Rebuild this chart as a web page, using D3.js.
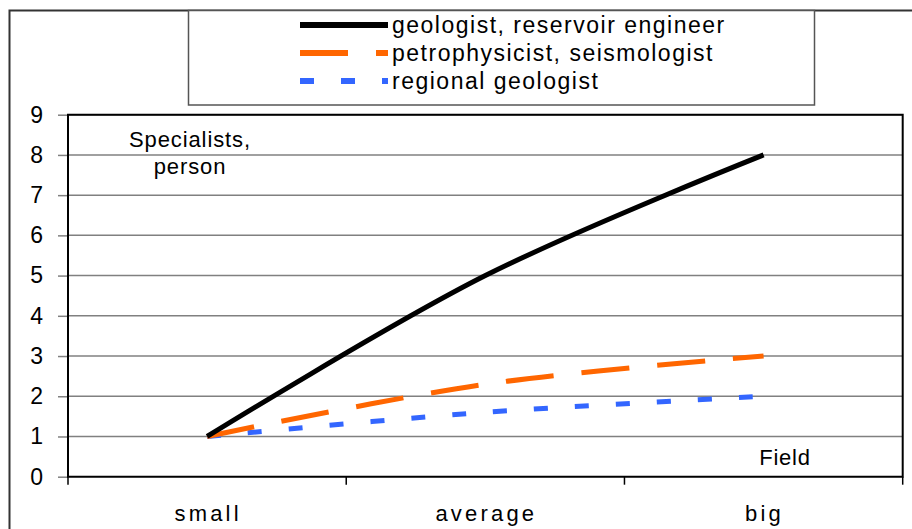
<!DOCTYPE html>
<html>
<head>
<meta charset="utf-8">
<script src="https://cdn.jsdelivr.net/npm/d3@7"></script>
<style>
  body { margin: 0; background: #fff; }
  text { font-family: Arial, "Liberation Sans", sans-serif; fill: #000; }
</style>
</head>
<body>
<div id="chart"></div>
<script>
var categories = ["small", "average", "big"];
var yTicks = [0, 1, 2, 3, 4, 5, 6, 7, 8, 9];
var geologist = [1, 5, 8];
var petrophysicist = [1, 2.3, 3];
var regional = [1, 1.6, 2];
var seriesNames = ["geologist, reservoir engineer", "petrophysicist, seismologist", "regional geologist"];

var series = [
  { name: seriesNames[0], values: geologist, color: "#000000", dash: null },
  { name: seriesNames[1], values: petrophysicist, color: "#ff6600", dash: "48,28" },
  { name: seriesNames[2], values: regional, color: "#3366ff", dash: "14,27" }
];

var W = 912, H = 529;
var margin = { left: 68, right: 9.3, top: 114.7, bottom: 52.3 };
var width = W - margin.left - margin.right;
var height = H - margin.top - margin.bottom;

var svg = d3.select("#chart").append("svg")
    .attr("width", W)
    .attr("height", H);

// outer frame (right and bottom edges fall outside the picture)
svg.append("rect")
    .attr("x", 9.5).attr("y", 10.5)
    .attr("width", 1000).attr("height", 1000)
    .attr("fill", "none")
    .attr("stroke", "#333")
    .attr("stroke-width", 2);

var g = svg.append("g")
    .attr("transform", "translate(" + margin.left + "," + margin.top + ")");

var x = d3.scaleBand().domain(categories).range([0, width]);
var y = d3.scaleLinear().domain([0, 9]).range([height, 0]);

// gridlines
g.append("g").selectAll("line")
  .data(yTicks.filter(function(d) { return d > 0; }))
  .enter().append("line")
    .attr("x1", 0).attr("x2", width)
    .attr("y1", function(d) { return y(d); })
    .attr("y2", function(d) { return y(d); })
    .attr("stroke", "#808080")
    .attr("stroke-width", 1.5);

// y axis
var yAxis = g.append("g")
    .call(d3.axisLeft(y).tickValues(yTicks).tickSize(10).tickPadding(15).tickFormat(d3.format("d")));
yAxis.select(".domain").remove();
yAxis.selectAll("line").attr("stroke", "#808080").attr("stroke-width", 1.5);
yAxis.selectAll("text")
    .style("font-size", "23px")
    .style("font-family", "Arial, 'Liberation Sans', sans-serif");

// x axis ticks at band edges
var edges = categories.map(function(c) { return x(c); }).concat([width]);
g.append("g").selectAll("line")
  .data(edges)
  .enter().append("line")
    .attr("x1", function(d) { return d; }).attr("x2", function(d) { return d; })
    .attr("y1", height).attr("y2", height + 8)
    .attr("stroke", "#000").attr("stroke-width", 1.5);

g.append("g").selectAll("text")
  .data(categories)
  .enter().append("text")
    .attr("x", function(d) { return x(d) + x.bandwidth() / 2 + 1; })
    .attr("y", height + 44)
    .attr("text-anchor", "middle")
    .style("font-size", "22px")
    .style("letter-spacing", "3.2px")
    .text(function(d) { return d; });

// plot border
g.append("path")
    .attr("d", "M0," + height + "V0H" + width + "V" + height + "Z")
    .attr("fill", "none")
    .attr("stroke", "#000")
    .attr("stroke-width", 2);

// lines
var line = d3.line()
    .x(function(d, i) { return x(categories[i]) + x.bandwidth() / 2; })
    .y(function(d) { return y(d); })
    .curve(d3.curveCatmullRom.alpha(0.5));

g.selectAll(".series")
  .data(series.slice().reverse())
  .enter().append("path")
    .attr("class", "series")
    .attr("d", function(d) { return line(d.values); })
    .attr("fill", "none")
    .attr("stroke", function(d) { return d.color; })
    .attr("stroke-width", 5)
    .attr("stroke-dasharray", function(d) { return d.dash; });

// axis titles inside plot
g.append("text").attr("x", 122).attr("y", 32).attr("text-anchor", "middle")
    .style("font-size", "22px").style("letter-spacing", "0.9px").text("Specialists,");
g.append("text").attr("x", 122).attr("y", 59).attr("text-anchor", "middle")
    .style("font-size", "22px").style("letter-spacing", "0.9px").text("person");
g.append("text").attr("x", 717).attr("y", 350).attr("text-anchor", "middle")
    .style("font-size", "22px").style("letter-spacing", "0.8px").text("Field");

// legend
var legend = svg.append("g");
legend.append("rect")
    .attr("x", 188.5).attr("y", 10.5)
    .attr("width", 626).attr("height", 94.5)
    .attr("fill", "#fff")
    .attr("stroke", "#555")
    .attr("stroke-width", 1.5);

var rows = legend.selectAll(".row")
  .data(series)
  .enter().append("g")
    .attr("transform", function(d, i) { return "translate(300," + (25 + i * 28) + ")"; });
rows.append("line")
    .attr("x1", 0).attr("x2", 88)
    .attr("stroke", function(d) { return d.color; })
    .attr("stroke-width", 6)
    .attr("stroke-dasharray", function(d) { return d.dash; });
rows.append("text")
    .attr("x", 92).attr("y", 8)
    .style("font-size", "23px")
    .style("letter-spacing", "1.5px")
    .text(function(d) { return d.name; });
</script>
</body>
</html>
